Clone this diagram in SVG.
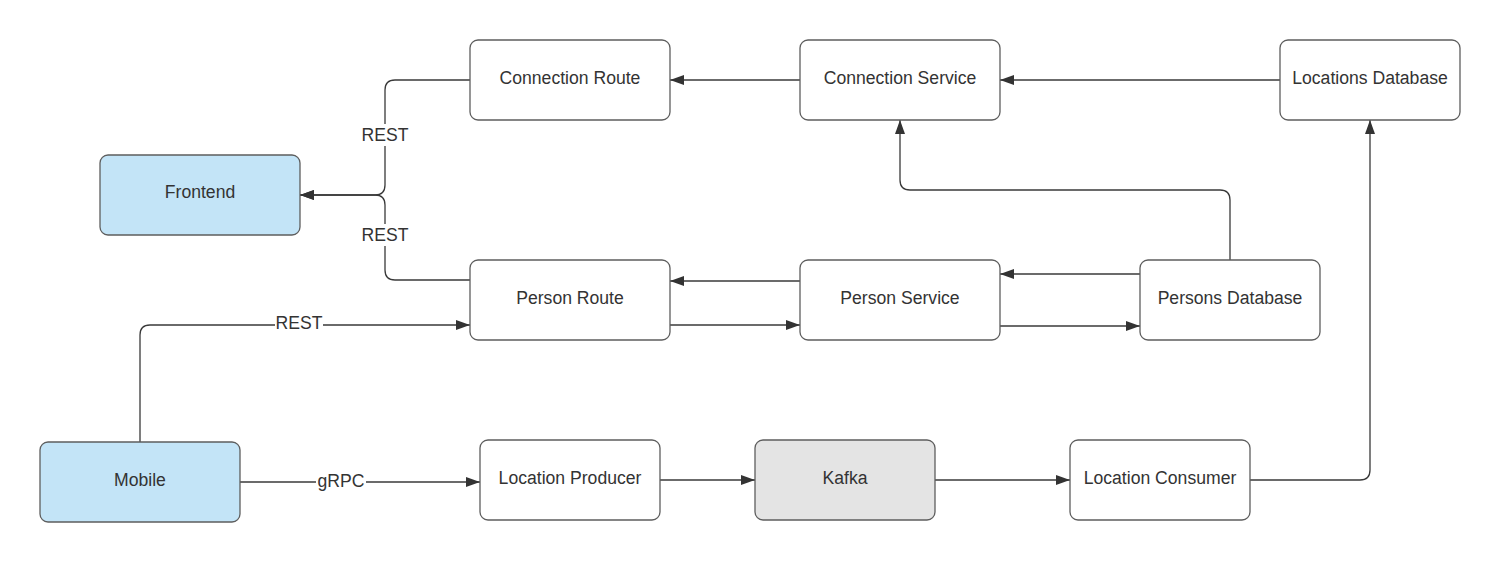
<svg xmlns="http://www.w3.org/2000/svg" width="1500" height="563" viewBox="0 0 1500 563">
<style>
.box{fill:#ffffff;stroke:#5e5e5e;stroke-width:1.3}
.blue{fill:#c3e4f7}
.grey{fill:#e4e4e4}
.t{font-family:"Liberation Sans",Arial,sans-serif;font-size:17.6px;fill:#333333;text-anchor:middle;dominant-baseline:central}
.c{fill:none;stroke:#3a3a3a;stroke-width:1.3}
.lbl{font-family:"Liberation Sans",Arial,sans-serif;font-size:17.6px;fill:#333333;text-anchor:middle;dominant-baseline:central}
.bg{fill:#ffffff}
</style>
<defs>
<marker id="arr" viewBox="0 0 14 10" refX="14" refY="5" markerWidth="14" markerHeight="10" markerUnits="userSpaceOnUse" orient="auto">
<path d="M0,0 L14,5 L0,10 Z" fill="#333333"/>
</marker>
</defs>
<rect width="1500" height="563" fill="#ffffff"/>
<g id="connectors">
<path class="c" d="M470,80 H395 Q385,80 385,90 V185 Q385,195 375,195 H300" marker-end="url(#arr)"/>
<path class="c" d="M470,280 H395 Q385,280 385,270 V205 Q385,195 375,195 H300" marker-end="url(#arr)"/>
<rect class="bg" x="358" y="124" width="54" height="22"/>
<text class="lbl" x="385" y="135">REST</text>
<rect class="bg" x="358" y="224" width="54" height="22"/>
<text class="lbl" x="385" y="235">REST</text>
<path class="c" d="M800,80 H670" marker-end="url(#arr)"/>
<path class="c" d="M1280,80 H1000" marker-end="url(#arr)"/>
<path class="c" d="M1230,260 V200 Q1230,190 1220,190 H910 Q900,190 900,180 V120" marker-end="url(#arr)"/>
<path class="c" d="M800,281 H670" marker-end="url(#arr)"/>
<path class="c" d="M670,325 H800" marker-end="url(#arr)"/>
<path class="c" d="M1140,274 H1000" marker-end="url(#arr)"/>
<path class="c" d="M1000,326 H1140" marker-end="url(#arr)"/>
<path class="c" d="M140,442 V335 Q140,325 150,325 H470" marker-end="url(#arr)"/>
<rect class="bg" x="275" y="314" width="48" height="20"/>
<text class="lbl" x="299" y="323">REST</text>
<path class="c" d="M240,482 H480" marker-end="url(#arr)"/>
<rect class="bg" x="316" y="471" width="50" height="20"/>
<text class="lbl" x="341" y="481">gRPC</text>
<path class="c" d="M660,480 H755" marker-end="url(#arr)"/>
<path class="c" d="M935,480 H1070" marker-end="url(#arr)"/>
<path class="c" d="M1250,480 H1360 Q1370,480 1370,470 V120" marker-end="url(#arr)"/>
</g>
<g id="connection-route"><rect class="box" x="470" y="40" width="200" height="80" rx="8"/><text class="t" x="570" y="78">Connection Route</text></g>
<g id="connection-service"><rect class="box" x="800" y="40" width="200" height="80" rx="8"/><text class="t" x="900" y="78">Connection Service</text></g>
<g id="locations-database"><rect class="box" x="1280" y="40" width="180" height="80" rx="8"/><text class="t" x="1370" y="78">Locations Database</text></g>
<g id="frontend"><rect class="box blue" x="100" y="155" width="200" height="80" rx="8"/><text class="t" x="200" y="192">Frontend</text></g>
<g id="person-route"><rect class="box" x="470" y="260" width="200" height="80" rx="8"/><text class="t" x="570" y="298">Person Route</text></g>
<g id="person-service"><rect class="box" x="800" y="260" width="200" height="80" rx="8"/><text class="t" x="900" y="298">Person Service</text></g>
<g id="persons-database"><rect class="box" x="1140" y="260" width="180" height="80" rx="8"/><text class="t" x="1230" y="298">Persons Database</text></g>
<g id="mobile"><rect class="box blue" x="40" y="442" width="200" height="80" rx="8"/><text class="t" x="140" y="480">Mobile</text></g>
<g id="location-producer"><rect class="box" x="480" y="440" width="180" height="80" rx="8"/><text class="t" x="570" y="478">Location Producer</text></g>
<g id="kafka"><rect class="box grey" x="755" y="440" width="180" height="80" rx="8"/><text class="t" x="845" y="478">Kafka</text></g>
<g id="location-consumer"><rect class="box" x="1070" y="440" width="180" height="80" rx="8"/><text class="t" x="1160" y="478">Location Consumer</text></g>
</svg>
